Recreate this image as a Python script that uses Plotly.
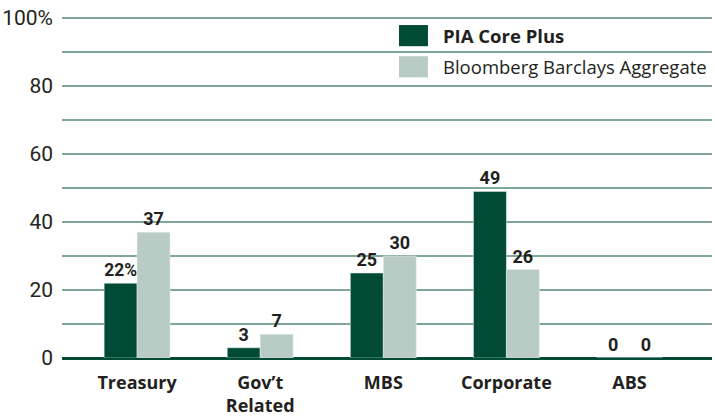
import plotly.graph_objects as go

categories = ["Treasury", "Gov’t<br>Related", "MBS", "Corporate", "ABS"]
pia_core_plus = [22, 3, 25, 49, 0]
bloomberg_agg = [37, 7, 30, 26, 0]
pia_labels = ["22%", "3", "25", "49", "0"]
agg_labels = ["37", "7", "30", "26", "0"]
series_names = ["PIA Core Plus", "Bloomberg Barclays Aggregate"]
y_tick_vals = [0, 20, 40, 60, 80, 100]
y_tick_text = ["0", "20", "40", "60", "80", "100%"]

DARK = "#004a36"
LIGHT = "#b8ccc5"
GRID = "#7fa796"
TEXT = "#231f20"
COND = "Roboto, Liberation Sans Narrow, sans-serif"
SANS = "Open Sans, Noto Sans, sans-serif"

x = list(range(len(categories)))

fig = go.Figure()
fig.add_trace(go.Bar(x=x, y=pia_core_plus, name=series_names[0], marker_color=DARK,
                     text=pia_labels, textposition="outside", cliponaxis=False,
                     textfont=dict(family=COND, size=18, color=TEXT, weight="bold")))
fig.add_trace(go.Bar(x=x, y=bloomberg_agg, name=series_names[1], marker_color=LIGHT,
                     text=agg_labels, textposition="outside", cliponaxis=False,
                     textfont=dict(family=COND, size=18, color=TEXT, weight="bold")))

# manual legend (swatches + labels) placed in paper coordinates
legend_items = [(series_names[0], DARK, True), (series_names[1], LIGHT, False)]
sw_x0, sw_x1, txt_x = 0.5185, 0.563, 0.583
row_tops = [0.9735, 0.8824]
row_h = 0.0618
for (name, col, bold), top in zip(legend_items, row_tops):
    fig.add_shape(type="rect", xref="paper", yref="paper", x0=sw_x0, x1=sw_x1,
                  y0=top - row_h, y1=top, fillcolor=col, line_width=0, layer="above")
    fig.add_annotation(xref="paper", yref="paper", x=txt_x, y=top - row_h / 2,
                       xanchor="left", yanchor="middle", showarrow=False,
                       text=f"<b>{name}</b>" if bold else name,
                       font=dict(family=SANS, size=18.5, color=TEXT))

fig.update_layout(
    width=715, height=420,
    margin=dict(l=62, r=3, t=16, b=62),
    paper_bgcolor="white", plot_bgcolor="white",
    barmode="group", bargap=0.465, bargroupgap=0,
    showlegend=False,
    xaxis=dict(range=[-0.61, 4.67], tickvals=x, ticktext=[f"<b>{c}</b>" for c in categories],
               tickfont=dict(family=SANS, size=18, color=TEXT), showgrid=False,
               showline=False, ticks="", zeroline=False, fixedrange=True,
               ticklabelstandoff=12, automargin=False),
    yaxis=dict(range=[0, 100.6], tickvals=y_tick_vals, ticktext=y_tick_text,
               tickfont=dict(family=COND, size=21, color=TEXT),
               showgrid=True, gridcolor=GRID, gridwidth=1.5,
               minor=dict(dtick=10, showgrid=True, gridcolor=GRID, gridwidth=1.5),
               zeroline=True, zerolinecolor=DARK, zerolinewidth=3,
               ticks="", ticklabelstandoff=8, showline=False, fixedrange=True,
               automargin=False),
)

fig.write_html("out.html", config={"displayModeBar": False},
               post_script="document.body.style.margin='0';")
